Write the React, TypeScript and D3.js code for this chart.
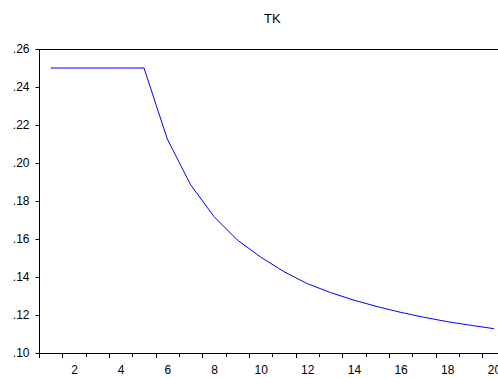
import React, { useRef, useEffect } from 'react'
import { select, scaleLinear, axisLeft, axisBottom, line, range } from 'd3'

// observations 1..20 of TK
const periods = range(1, 21)
const tk = [
  0.25, 0.25, 0.25, 0.25, 0.25, 0.2126, 0.1885, 0.1718, 0.1595, 0.1505,
  0.1428, 0.1365, 0.1318, 0.1278, 0.1244, 0.1214, 0.1188, 0.1165, 0.1146, 0.1128,
]
const yTicks = [0.1, 0.12, 0.14, 0.16, 0.18, 0.2, 0.22, 0.24, 0.26]
const xLabels = [2, 4, 6, 8, 10, 12, 14, 16, 18, 20]
const title = 'TK'

const W = 498
const H = 378
const left = 39
const top = 49
const bottom = 353
const step = 23.33

function App() {
  const svgRef = useRef<SVGSVGElement>(null)

  useEffect(() => {
    const svg = select(svgRef.current)
    const font = "Arial, 'Liberation Sans', sans-serif"

    const xScale = scaleLinear()
      .domain([0.5, periods.length + 0.5])
      .range([left, left + step * periods.length])
    const yScale = scaleLinear().domain([0.1, 0.26]).range([bottom, top])

    // frame: left, top, bottom
    const right = xScale(periods.length + 0.5)
    svg.select('.frame')
      .attr('d', `M${left + 0.5},${top + 0.5}H${right}M${left + 0.5},${top}V${bottom + 0.5}M${left},${bottom + 0.5}H${right}`)
      .attr('fill', 'none')
      .attr('stroke', '#000')
      .attr('stroke-width', 1)

    const yAxis = axisLeft(yScale)
      .tickValues(yTicks)
      .tickSize(4)
      .tickPadding(6)
      .tickFormat(d => (+d).toFixed(2).replace(/^0/, ''))
    svg.select('.y-axis')
      .attr('transform', `translate(${left + 0.5},0)`)
      .call(yAxis as any)
    svg.select('.y-axis').select('.domain').remove()
    svg.selectAll('.y-axis text').attr('font-size', 12).attr('font-family', font).attr('fill', '#000')

    // tick marks sit between observations
    const bounds = range(0.5, periods.length + 1, 1)
    svg.select('.x-ticks')
      .selectAll('line')
      .data(bounds)
      .join('line')
      .attr('x1', d => Math.round(xScale(d)) + 0.5)
      .attr('x2', d => Math.round(xScale(d)) + 0.5)
      .attr('y1', bottom)
      .attr('y2', (d, i) => bottom + (i % 2 === 1 || i === 0 ? 5 : 4))
      .attr('stroke', '#000')

    const xAxis = axisBottom(xScale)
      .tickValues(xLabels)
      .tickSize(0)
      .tickPadding(12)
      .tickFormat(d => String(d))
    svg.select('.x-axis')
      .attr('transform', `translate(0,${bottom})`)
      .call(xAxis as any)
    svg.select('.x-axis').select('.domain').remove()
    svg.selectAll('.x-axis text').attr('font-size', 12).attr('font-family', font).attr('fill', '#000')

    const tkLine = line<number>()
      .x((v, i) => xScale(periods[i]))
      .y(v => yScale(v))
    svg.select('.line')
      .datum(tk)
      .attr('d', tkLine)
      .attr('fill', 'none')
      .attr('stroke', '#0000ff')
      .attr('stroke-width', 1)

    svg.select('.title')
      .attr('x', (left + right) / 2)
      .attr('y', 23)
      .attr('text-anchor', 'middle')
      .attr('font-size', 13)
      .attr('font-family', font)
      .text(title)
  }, [])

  return (
    <svg ref={svgRef} width={W} height={H} style={{ position: 'absolute', left: 0, top: 0, background: '#fff' }}>
      <path className="frame" />
      <g className="y-axis" />
      <g className="x-ticks" />
      <g className="x-axis" />
      <path className="line" />
      <text className="title" />
    </svg>
  )
}

export default App
